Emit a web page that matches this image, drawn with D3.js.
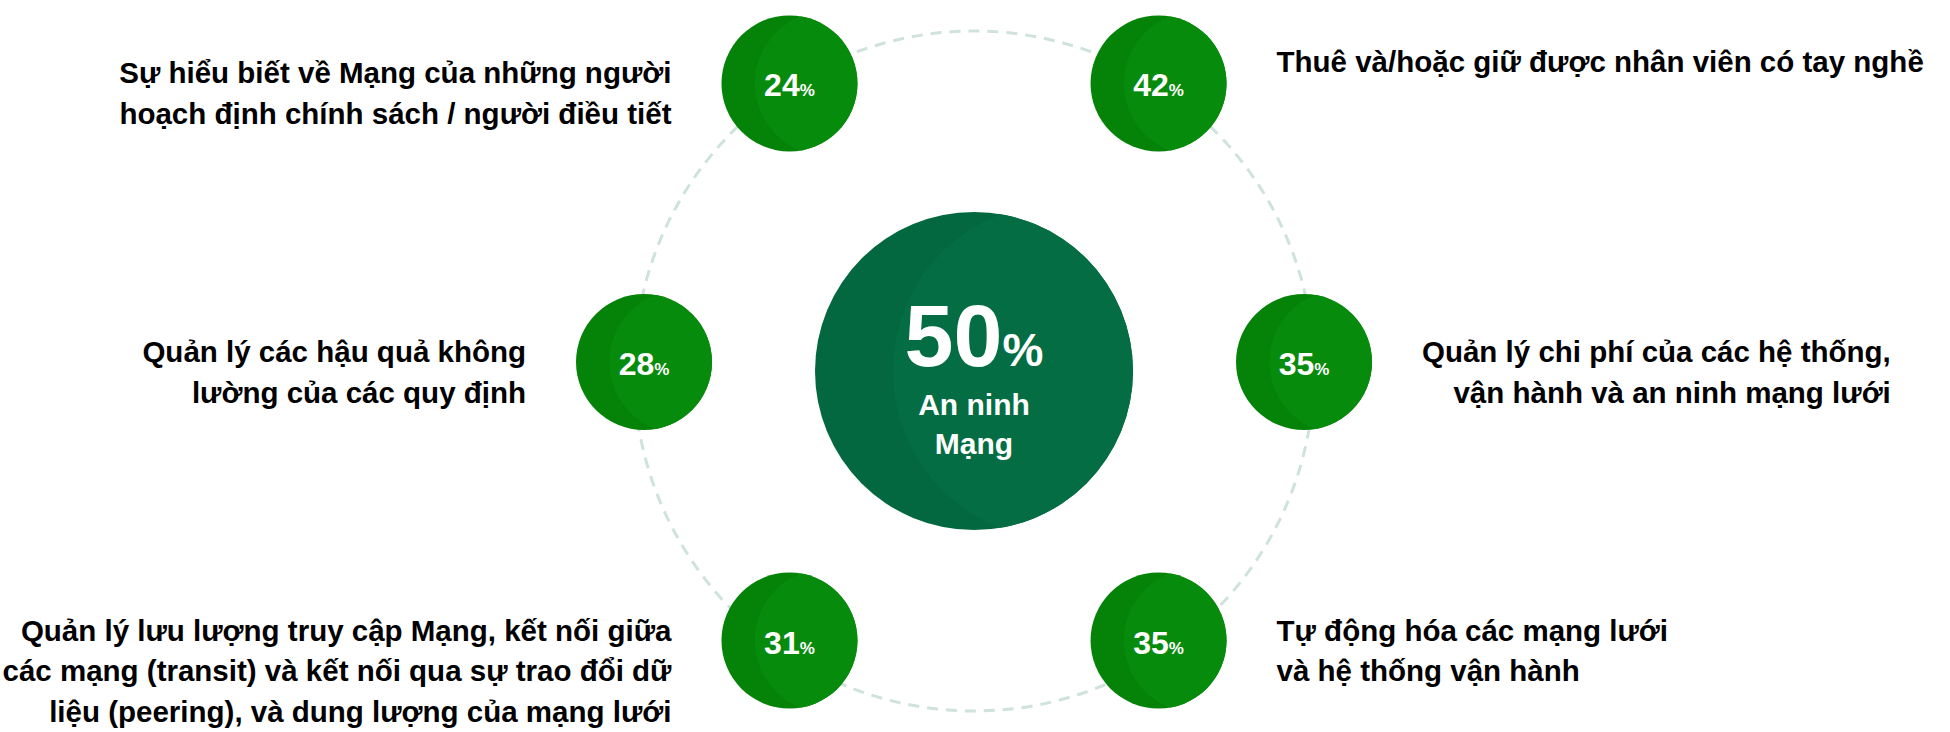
<!DOCTYPE html>
<html>
<head>
  <meta charset="utf-8">
  <title>An ninh Mạng</title>
  <style type="text/css">
    body { margin: 0; background: #fff; }
    svg { display: block; font-family: "Liberation Sans", Arial, sans-serif; }
    .label { font-size: 29.5px; font-weight: bold; fill: #000; }
    .pct { fill: #fff; font-weight: bold; }
  </style>
  <script src="https://cdn.jsdelivr.net/npm/d3@7"></script>
</head>
<body>
<script>
  // values, clockwise starting from the top-right node
  var values = [42, 35, 35, 31, 28, 24];
  var labels = [
    ["Thuê và/hoặc giữ được nhân viên có tay nghề"],
    ["Quản lý chi phí của các hệ thống,", "vận hành và an ninh mạng lưới"],
    ["Tự động hóa các mạng lưới", "và hệ thống vận hành"],
    ["Quản lý lưu lượng truy cập Mạng, kết nối giữa", "các mạng (transit) và kết nối qua sự trao đổi dữ", "liệu (peering), và dung lượng của mạng lưới"],
    ["Quản lý các hậu quả không", "lường của các quy định"],
    ["Sự hiểu biết về Mạng của những người", "hoạch định chính sách / người điều tiết"]
  ];
  var centerValue = 50;
  var centerLabel = ["An ninh", "Mạng"];

  // layout
  var W = 1950, H = 732,
    cx = 974, cy = 371,
    ringR = 340, orbitCy = 362, orbitRx = 330, orbitRy = 336,
    hubR = 159, nodeR = 68, gap = 50, lineH = 40.5;
  var labelAlign = ["start", "end", "start", "end", "end", "end"];

  var svg = d3.select('body').append('svg')
    .attr('width', W)
    .attr('height', H);
  var defs = svg.append('defs');

  // dashed ring
  svg.append('circle')
    .attr('cx', cx).attr('cy', cy).attr('r', ringR)
    .attr('fill', 'none')
    .attr('stroke', '#cfe2db')
    .attr('stroke-width', 3)
    .attr('stroke-dasharray', '11 8');

  // angle of each node: three on the right, three on the left
  var slot = d3.scaleLinear().domain([0, 2]).range([-56, 56]);
  function angle(i) { return i < 3 ? slot(i) : 180 + slot(i - 3); }

  var nodes = values.map(function (v, i) {
    var a = angle(i) * Math.PI / 180;
    return {
      value: v, lines: labels[i], right: i < 3, align: labelAlign[i],
      x: cx + orbitRx * Math.cos(a),
      y: orbitCy + orbitRy * Math.sin(a)
    };
  });

  // ball with a faint crescent on its left side
  function ball(g, r, dark, light, id) {
    defs.append('clipPath').attr('id', id).append('circle').attr('r', r);
    g.append('circle').attr('r', r).attr('fill', dark);
    g.append('circle')
      .attr('cx', r * 0.55).attr('r', r * 1.06)
      .attr('fill', light)
      .attr('clip-path', 'url(#' + id + ')');
  }

  // hub
  var hub = svg.append('g').attr('transform', 'translate(' + cx + ',' + cy + ')');
  ball(hub, hubR, '#03683f', '#046d44', 'clip-hub');
  var big = hub.append('text').classed('pct', true)
    .attr('text-anchor', 'middle').attr('y', -5)
    .style('font-size', '88px');
  big.append('tspan').text(centerValue);
  big.append('tspan').style('font-size', '46px').text('%');
  hub.selectAll('text.sub').data(centerLabel).enter().append('text')
    .classed('pct sub', true)
    .attr('text-anchor', 'middle')
    .attr('y', function (d, i) { return 44 + i * 39; })
    .style('font-size', '30px')
    .text(function (d) { return d; });

  // nodes
  var node = svg.selectAll('g.node').data(nodes).enter().append('g')
    .classed('node', true)
    .attr('transform', function (d) { return 'translate(' + d.x + ',' + d.y + ')'; });

  node.each(function (d, i) {
    var g = d3.select(this);
    ball(g, nodeR, '#058309', '#078b0c', 'clip-' + i);
    var t = g.append('text').classed('pct', true)
      .attr('text-anchor', 'middle').attr('y', 13)
      .style('font-size', '32px');
    t.append('tspan').text(d.value);
    t.append('tspan').style('font-size', '17px').text('%');
  });

  // labels beside the nodes; a single line sits a little higher
  nodes.forEach(function (d) {
    var g = svg.append('g').classed('label', true);
    var x0 = d.right ? d.x + nodeR + gap : d.x - nodeR - gap;
    var y0 = d.y + (d.lines.length === 1 ? -11 : 0);
    var txt = g.selectAll('text').data(d.lines).enter().append('text')
      .attr('y', function (s, j) { return y0 + j * lineH; })
      .text(function (s) { return s; });
    if (!d.right) {
      txt.attr('x', x0).attr('text-anchor', 'end');
    } else if (d.align === 'start') {
      txt.attr('x', x0).attr('text-anchor', 'start');
    } else {
      var maxW = d3.max(txt.nodes(), function (n) { return n.getComputedTextLength(); });
      txt.attr('x', x0 + maxW).attr('text-anchor', 'end');
    }
  });
</script>
</body>
</html>
